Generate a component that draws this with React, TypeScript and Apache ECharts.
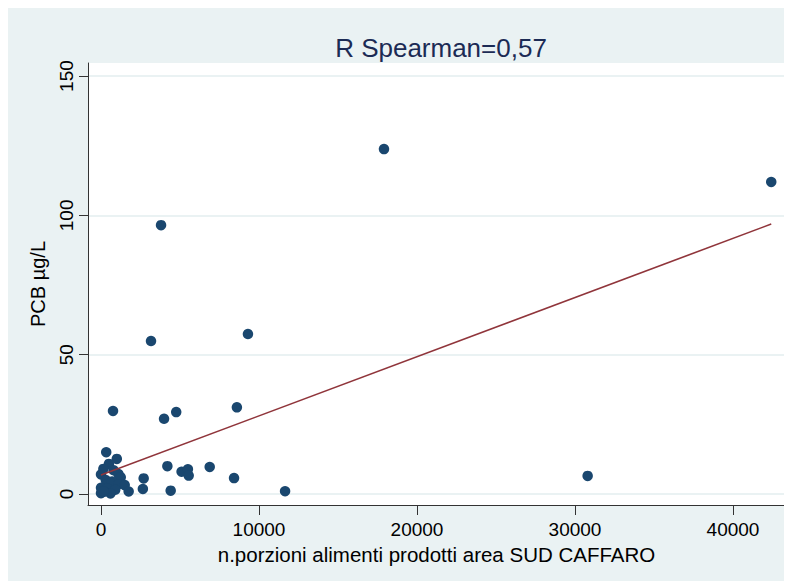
import React, { useEffect, useRef } from "react";
import * as echarts from "echarts";

// Portions of food produced in the SUD CAFFARO area vs PCB concentration
const porzioni: number[] = [
  0, 330, 1000, 500, 150, 800, 1100, 1250, 300, 700,
  1100, 1500, 0, 400, 900, 0, 600, 200, 1750, 150,
  2700, 2650, 4200, 5100, 5500, 5550, 6880, 8420, 4410, 11650,
  30800, 760, 3990, 4760, 8600, 3165, 9300, 3800, 17910, 42420,
];
const pcb: number[] = [
  7.0, 15.0, 12.6, 10.8, 9.0, 8.5, 7.2, 6.0, 5.0, 4.5,
  3.5, 3.2, 2.2, 2.0, 1.5, 0.3, 0.2, 0.8, 0.9, 1.0,
  5.6, 1.8, 10.0, 8.0, 8.9, 6.6, 9.7, 5.7, 1.2, 1.0,
  6.5, 29.8, 27.0, 29.4, 31.1, 54.9, 57.4, 96.5, 123.8, 112.0,
];

// Linear fit drawn between the smallest and largest x
const fitX: number[] = [0, 42420];
const fitY: number[] = [6.8, 96.9];

const xTicks: number[] = [0, 10000, 20000, 30000, 40000];
const yTicks: number[] = [0, 50, 100, 150];

const titleText = "R Spearman=0,57";
const xName = "n.porzioni alimenti prodotti area SUD CAFFARO";
const yName = "PCB µg/L";

const FONT = "'Liberation Sans', Arial, sans-serif";

export default function App() {
  const ref = useRef<HTMLDivElement>(null);

  useEffect(() => {
    if (!ref.current) return;
    const chart = echarts.init(ref.current, undefined, { renderer: "svg" });

    const points = porzioni.map((x, i) => [x, pcb[i]]);
    const fit = fitX.map((x, i) => [x, fitY[i]]);

    chart.setOption({
      animation: false,
      backgroundColor: "#eaf2f3",
      textStyle: { fontFamily: FONT },
      title: {
        text: titleText,
        left: 428,
        top: 22,
        textAlign: "center",
        textStyle: {
          fontFamily: FONT,
          fontSize: 26,
          fontWeight: "normal",
          color: "#1c2b55",
        },
      },
      grid: {
        left: 80,
        right: 7,
        top: 55,
        bottom: 76,
        show: true,
        backgroundColor: "#ffffff",
        borderWidth: 0,
      },
      xAxis: {
        type: "value",
        min: -823,
        max: 43291,
        name: xName,
        nameLocation: "middle",
        nameGap: 35,
        nameTextStyle: { fontFamily: FONT, fontSize: 20.5, color: "#000" },
        axisLine: { show: true, onZero: false, lineStyle: { color: "#333", width: 1 } },
        axisTick: { show: true, length: 10, customValues: xTicks, lineStyle: { color: "#333" } },
        axisLabel: {
          customValues: xTicks,
          formatter: (v: number) => String(v),
          margin: 15,
          fontFamily: FONT,
          fontSize: 19,
          color: "#000",
        },
        splitLine: { show: false },
      },
      yAxis: {
        type: "value",
        min: -3.95,
        max: 154.7,
        name: yName,
        nameLocation: "middle",
        nameGap: 40,
        nameRotate: 90,
        nameTextStyle: { fontFamily: FONT, fontSize: 20, color: "#000" },
        axisLine: { show: true, onZero: false, lineStyle: { color: "#333", width: 1 } },
        axisTick: { show: true, length: 9, customValues: yTicks, lineStyle: { color: "#333" } },
        axisLabel: {
          customValues: yTicks,
          formatter: (v: number) => String(v),
          rotate: 90,
          margin: 12,
          fontFamily: FONT,
          fontSize: 19,
          color: "#000",
        },
        splitLine: { show: false },
      },
      series: [
        {
          // horizontal reference lines at each y tick, under the markers
          type: "line",
          data: [],
          silent: true,
          z: 0,
          markLine: {
            silent: true,
            symbol: ["none", "none"],
            label: { show: false },
            z: 0,
            lineStyle: { color: "#eaf2f3", width: 2, type: "solid" },
            data: yTicks.map((v) => ({ yAxis: v })),
          },
        },
        {
          type: "scatter",
          data: points,
          symbol: "circle",
          symbolSize: 10.5,
          z: 3,
          itemStyle: { color: "#1a476f", opacity: 1 },
        },
        {
          type: "line",
          data: fit,
          symbol: "none",
          z: 4,
          lineStyle: { color: "#90353b", width: 1.6 },
        },
      ],
    });

    return () => {
      chart.dispose();
    };
  }, []);

  return <div ref={ref} style={{ width: 784, height: 573 }} />;
}
